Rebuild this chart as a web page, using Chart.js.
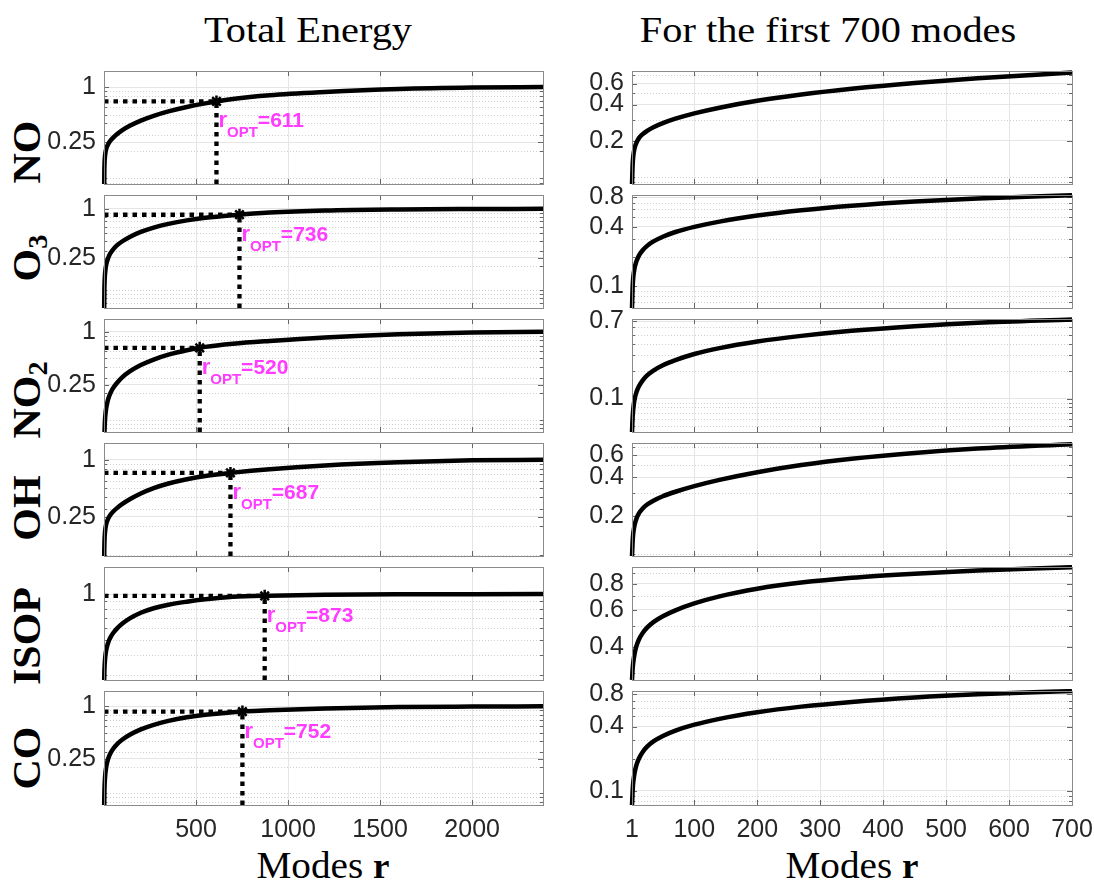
<!DOCTYPE html>
<html>
<head>
<meta charset="utf-8">
<script src="https://cdn.jsdelivr.net/npm/chart.js@4.4.1/dist/chart.umd.min.js"></script>
<style>
  html, body { margin: 0; padding: 0; background: #fff; }
  body { width: 1094px; height: 884px; position: relative; overflow: hidden; }
  canvas { position: absolute; }
  .serif { position: absolute; font-family: "Liberation Serif", "DejaVu Serif", serif; color: #000; white-space: nowrap; line-height: 1; }
  .title { font-size: 36px; transform: translate(-50%, -50%) scaleX(1.12); }
  .xlab { font-size: 37px; transform: translate(-50%, -50%) scaleX(1.06); }
  .xlab b { font-size: 35px; }
  .row { font-weight: bold; font-size: 40px; transform: translate(-50%, -50%) rotate(-90deg) scaleX(1.05); }
  .row sub { font-size: 27px; vertical-align: -0.25em; line-height: 0; }
</style>
</head>
<body>
<div class="serif title" style="left:308px; top:30px;">Total Energy</div>
<div class="serif title" style="left:828px; top:30px;">For the first 700 modes</div>
<div class="serif xlab" style="left:323px; top:865px;">Modes <b>r</b></div>
<div class="serif xlab" style="left:852px; top:865px;">Modes <b>r</b></div>
<div class="serif row" style="left:27px; top:152px;">NO</div>
<div class="serif row" style="left:27px; top:258px;">O<sub>3</sub></div>
<div class="serif row" style="left:27px; top:400px;">NO<sub>2</sub></div>
<div class="serif row" style="left:27px; top:508px;">OH</div>
<div class="serif row" style="left:27px; top:636px;">ISOP</div>
<div class="serif row" style="left:27px; top:758px;">CO</div>

<script>
// ---- data: cumulative energy fraction captured by the first r modes ----
const species = ['NO', 'O3', 'NO2', 'OH', 'ISOP', 'CO'];
const modes = [1, 2, 3, 5, 8, 12, 18, 25, 35, 50, 70, 100, 140, 200, 270, 350, 450, 550, 700, 900, 1200, 1600, 2000, 2385];
const energyNO   = [0.087, 0.125, 0.148, 0.172, 0.192, 0.210, 0.227, 0.242, 0.259, 0.280, 0.305, 0.338, 0.377, 0.430, 0.485, 0.542, 0.606, 0.663, 0.741, 0.815, 0.885, 0.955, 0.990, 1.0];
const energyO3   = [0.0605, 0.098, 0.123, 0.152, 0.179, 0.205, 0.232, 0.257, 0.285, 0.318, 0.355, 0.400, 0.452, 0.520, 0.588, 0.654, 0.722, 0.776, 0.835, 0.900, 0.955, 0.985, 0.996, 1.0];
const energyNO2  = [0.043, 0.062, 0.076, 0.097, 0.117, 0.136, 0.158, 0.179, 0.202, 0.231, 0.263, 0.307, 0.356, 0.420, 0.485, 0.551, 0.619, 0.676, 0.734, 0.790, 0.865, 0.940, 0.985, 1.0];
const energyOH   = [0.0967, 0.125, 0.145, 0.168, 0.190, 0.209, 0.228, 0.245, 0.263, 0.285, 0.309, 0.342, 0.383, 0.440, 0.501, 0.561, 0.623, 0.674, 0.731, 0.795, 0.870, 0.940, 0.985, 1.0];
const energyISOP = [0.277, 0.312, 0.336, 0.368, 0.402, 0.433, 0.465, 0.493, 0.524, 0.559, 0.597, 0.644, 0.696, 0.757, 0.810, 0.854, 0.893, 0.925, 0.960, 0.977, 0.990, 0.997, 0.999, 1.0];
const energyCO   = [0.0737, 0.100, 0.120, 0.146, 0.174, 0.201, 0.231, 0.259, 0.290, 0.326, 0.366, 0.416, 0.472, 0.544, 0.614, 0.680, 0.748, 0.801, 0.858, 0.900, 0.945, 0.980, 0.993, 1.0];
const energies = [energyNO, energyO3, energyNO2, energyOH, energyISOP, energyCO];

// optimal truncation rank and the energy captured there
const rOpt = [611, 736, 520, 687, 873, 752];
const energyAtOpt = [0.696, 0.847, 0.659, 0.726, 0.975, 0.870];

// axis ticks and limits
const totalTicksX = [500, 1000, 1500, 2000];
const firstTicksX = [1, 100, 200, 300, 400, 500, 600, 700];
const totalLimitsX = [0, 2385];
const firstLimitsX = [1, 700];
const totalTicksY = [[0.25, 1], [0.25, 1], [0.25, 1], [0.25, 1], [1], [0.25, 1]];
const firstTicksY = [[0.2, 0.4, 0.6], [0.1, 0.4, 0.8], [0.1, 0.7], [0.2, 0.4, 0.6], [0.4, 0.6, 0.8], [0.1, 0.4, 0.8]];
const totalLimitsY = [[0.087, 1.50], [0.0605, 1.48], [0.073, 1.40], [0.0967, 1.50], [0.277, 1.50], [0.0737, 1.50]];
const firstLimitsY = [[0.087, 0.763], [0.0605, 0.84], [0.043, 0.742], [0.0967, 0.746], [0.277, 0.962], [0.0737, 0.86]];

// ---- layout (page pixels) ----
const ROW_TOP = [70, 194, 318, 442, 566, 690];
const PANEL_H = 115;
const COLS = [
  { plotLeft: 104, plotRight: 543, canvasLeft: 0, canvasWidth: 580 },
  { plotLeft: 632, plotRight: 1072, canvasLeft: 555, canvasWidth: 580 }
];
const Y_AXIS_W = 62;
const X_AXIS_H = 48;
const PAD_V = 22;

const TICK_FONT = { family: '"Liberation Sans", Arial, sans-serif', size: 25 };
const TICK_COLOR = '#262626';
const GRID_COLOR = '#e5e5e5';
const MINOR_COLOR = '#cfcfcf';
const BOX_COLOR = '#8a8a8a';
const MAGENTA = '#ff3cff';

function minorValues(min, max) {
  const out = [];
  for (let d = Math.floor(Math.log10(min)); d <= Math.ceil(Math.log10(max)); d++) {
    for (let m = 1; m <= 9; m++) {
      const v = m * Math.pow(10, d);
      if (v > min && v < max) out.push(v);
    }
  }
  return out;
}

// box, inward tick marks and dotted minor grid in the MATLAB manner
const framePlugin = {
  id: 'frame',
  beforeDatasetsDraw(chart) {
    const { ctx, chartArea: a, scales: { x, y } } = chart;
    const majors = chart.options.plugins.frame.yMajor;
    const minors = minorValues(y.min, y.max).filter(v => !majors.some(m => Math.abs(m - v) < 1e-9));
    ctx.save();
    ctx.lineWidth = 1;
    ctx.strokeStyle = MINOR_COLOR;
    ctx.setLineDash([1, 2]);
    minors.forEach(v => {
      const py = Math.round(y.getPixelForValue(v)) + 0.5;
      ctx.beginPath(); ctx.moveTo(a.left, py); ctx.lineTo(a.right, py); ctx.stroke();
    });
    ctx.setLineDash([]);
    ctx.strokeStyle = '#666';
    minors.forEach(v => {
      const py = Math.round(y.getPixelForValue(v)) + 0.5;
      ctx.beginPath();
      ctx.moveTo(a.left, py); ctx.lineTo(a.left + 3, py);
      ctx.moveTo(a.right, py); ctx.lineTo(a.right - 3, py);
      ctx.stroke();
    });
    majors.forEach(v => {
      const py = Math.round(y.getPixelForValue(v)) + 0.5;
      ctx.beginPath();
      ctx.moveTo(a.left, py); ctx.lineTo(a.left + 5, py);
      ctx.moveTo(a.right, py); ctx.lineTo(a.right - 5, py);
      ctx.stroke();
    });
    chart.options.plugins.frame.xMajor.forEach(v => {
      const px = Math.round(x.getPixelForValue(v)) + 0.5;
      ctx.beginPath();
      ctx.moveTo(px, a.top); ctx.lineTo(px, a.top + 5);
      ctx.moveTo(px, a.bottom); ctx.lineTo(px, a.bottom - 5);
      ctx.stroke();
    });
    ctx.restore();
  },
  afterDatasetsDraw(chart) {
    const { ctx, chartArea: a } = chart;
    ctx.save();
    ctx.strokeStyle = BOX_COLOR;
    ctx.lineWidth = 1;
    ctx.strokeRect(Math.round(a.left) + 0.5, Math.round(a.top) + 0.5, Math.round(a.right - a.left), Math.round(a.bottom - a.top));
    ctx.restore();
  }
};

// magenta r_OPT label next to the marker
const optLabelPlugin = {
  id: 'optLabel',
  afterDatasetsDraw(chart) {
    const o = chart.options.plugins.optLabel;
    if (!o || o.r == null) return;
    const { ctx, scales: { x, y } } = chart;
    const px = x.getPixelForValue(o.r);
    const py = y.getPixelForValue(o.e);
    ctx.save();
    ctx.fillStyle = MAGENTA;
    ctx.textBaseline = 'alphabetic';
    ctx.textAlign = 'left';
    let cx = px + 2;
    const base = py + 26;
    ctx.font = 'bold 22px "Liberation Sans", Arial, sans-serif';
    ctx.fillText('r', cx, base);
    cx += ctx.measureText('r').width;
    ctx.font = 'bold 15px "Liberation Sans", Arial, sans-serif';
    ctx.fillText('OPT', cx, base + 10);
    cx += ctx.measureText('OPT').width;
    ctx.font = 'bold 21px "Liberation Sans", Arial, sans-serif';
    ctx.fillText('=' + o.r, cx, base);
    ctx.restore();
  }
};

function makePanel(row, colIdx) {
  const col = COLS[colIdx];
  const isTotal = colIdx === 0;
  const bottomRow = row === ROW_TOP.length - 1;
  const top = ROW_TOP[row] - PAD_V;
  const height = PANEL_H + 2 * PAD_V + (bottomRow ? X_AXIS_H : 0);

  const canvas = document.createElement('canvas');
  canvas.style.left = col.canvasLeft + 'px';
  canvas.style.top = top + 'px';
  canvas.style.width = col.canvasWidth + 'px';
  canvas.style.height = height + 'px';
  canvas.width = col.canvasWidth;
  canvas.height = height;
  document.body.appendChild(canvas);

  const e = energies[row];
  const n = isTotal ? modes.length : modes.indexOf(700) + 1;
  const curve = modes.slice(0, n).map((m, i) => ({ x: m, y: e[i] }));
  const limX = isTotal ? totalLimitsX : firstLimitsX;
  const limY = isTotal ? totalLimitsY[row] : firstLimitsY[row];
  const ticksX = isTotal ? totalTicksX : firstTicksX;
  const ticksY = isTotal ? totalTicksY[row] : firstTicksY[row];

  const datasets = [{
    data: curve,
    borderColor: '#000',
    borderWidth: 4.5,
    pointRadius: 0,
    cubicInterpolationMode: 'monotone',
    clip: { left: 3, top: 2, right: 0, bottom: 0 }
  }];

  if (isTotal) {
    const r = rOpt[row], eo = energyAtOpt[row];
    const guide = {
      borderColor: '#000', borderWidth: 4.3, borderDash: [4.5, 5], borderCapStyle: 'butt',
      pointRadius: 0, clip: 0
    };
    datasets.push(Object.assign({ data: [{ x: limX[0], y: eo }, { x: r, y: eo }] }, guide));
    datasets.push(Object.assign({ data: [{ x: r, y: limY[0] }, { x: r, y: eo }] }, guide));
    datasets.push({
      data: [{ x: r, y: eo }], showLine: false, pointStyle: 'star', pointRadius: 6,
      pointBorderWidth: 2.5, pointBorderColor: '#000', pointBackgroundColor: '#000', clip: false
    });
  }

  new Chart(canvas, {
    type: 'line',
    data: { datasets },
    options: {
      responsive: false,
      animation: false,
      events: [],
      layout: {
        padding: {
          left: col.plotLeft - col.canvasLeft - Y_AXIS_W,
          right: col.canvasLeft + col.canvasWidth - col.plotRight,
          top: PAD_V,
          bottom: PAD_V
        }
      },
      plugins: {
        legend: { display: false },
        tooltip: { enabled: false },
        frame: { yMajor: ticksY, xMajor: ticksX },
        optLabel: isTotal ? { r: rOpt[row], e: energyAtOpt[row] } : {}
      },
      scales: {
        x: {
          type: 'linear',
          min: limX[0], max: limX[1],
          afterBuildTicks: s => { s.ticks = ticksX.map(v => ({ value: v })); },
          afterFit: s => { s.height = bottomRow ? X_AXIS_H : 0; },
          ticks: {
            display: bottomRow, autoSkip: false, maxRotation: 0, padding: 10,
            font: TICK_FONT, color: TICK_COLOR, callback: v => String(v)
          },
          grid: { color: GRID_COLOR, lineWidth: 1, drawTicks: false },
          border: { display: false }
        },
        y: {
          type: 'logarithmic',
          min: limY[0], max: limY[1],
          afterBuildTicks: s => { s.ticks = ticksY.map(v => ({ value: v })); },
          afterFit: s => { s.width = Y_AXIS_W; },
          ticks: {
            autoSkip: false, padding: 8,
            font: TICK_FONT, color: TICK_COLOR, callback: v => String(v)
          },
          grid: { color: GRID_COLOR, lineWidth: 1, drawTicks: false },
          border: { display: false }
        }
      }
    },
    plugins: [framePlugin, optLabelPlugin]
  });
}

for (let row = 0; row < ROW_TOP.length; row++) {
  makePanel(row, 0);
  makePanel(row, 1);
}
</script>
</body>
</html>
